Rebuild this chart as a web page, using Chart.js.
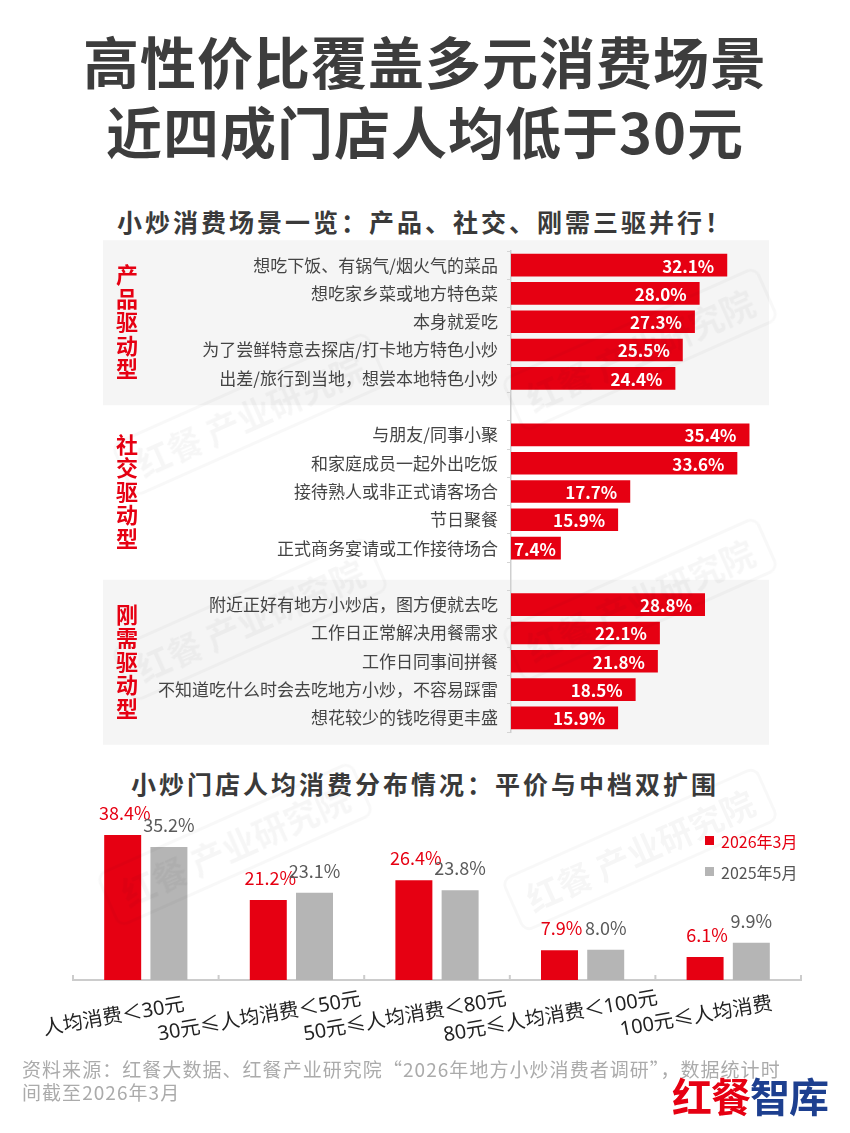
<!DOCTYPE html>
<html><head><meta charset="utf-8">
<script src="https://cdn.jsdelivr.net/npm/chart.js@4.4.1/dist/chart.umd.min.js"></script>
<style>
html,body{margin:0;padding:0;background:#fff;}
body{width:850px;height:1133px;position:relative;overflow:hidden;font-family:"Noto Sans CJK SC","Noto Sans",sans-serif;}
.abs{position:absolute;}
.title{left:0;width:850px;text-align:center;font-weight:700;font-size:56px;color:#3d3d3d;line-height:70px;letter-spacing:1px;}
.sub{left:0;width:850px;text-align:center;font-weight:700;font-size:25px;color:#3a3a3a;line-height:32px;letter-spacing:3px;}
.wm{font-weight:700;font-size:34px;color:rgba(0,0,0,0.035);border:3px solid rgba(0,0,0,0.028);border-radius:10px;padding:2px 14px;transform:rotate(-24deg);white-space:nowrap;transform-origin:center;}
.lg{font-size:16px;line-height:20px;}
.sq{width:9px;height:9px;}
.foot{left:22px;top:1057px;font-size:19px;line-height:23px;color:#ababab;letter-spacing:1.05px;}
.logo{right:22px;top:1071px;font-weight:700;font-size:40px;line-height:48px;letter-spacing:-1px;}
</style></head>
<body>
<div class="abs title" style="top:25px;">高性价比覆盖多元消费场景</div>
<div class="abs title" style="top:95px;">近四成门店人均低于30元</div>
<div class="abs sub" style="top:205px;">小炒消费场景一览：产品、社交、刚需三驱并行！</div>

<div class="abs" style="left:0;top:240px;width:850px;height:510px;"><canvas id="c1" width="850" height="510"></canvas></div>

<div class="abs sub" style="top:767px;">小炒门店人均消费分布情况：平价与中档双扩围</div>
<div class="abs" style="left:0;top:790px;width:850px;height:270px;"><canvas id="c2" width="850" height="270"></canvas></div>

<div class="abs sq" style="left:705px;top:836px;background:#e60012;"></div>
<div class="abs lg" id="lg1" style="left:721px;top:831px;color:#e60012;"></div>
<div class="abs sq" style="left:705px;top:867px;background:#b5b5b5;"></div>
<div class="abs lg" id="lg2" style="left:721px;top:862px;color:#555;"></div>

<div class="abs wm" style="left:110px;top:385px;">红餐 产业研究院</div>
<div class="abs wm" style="left:500px;top:320px;">红餐 产业研究院</div>
<div class="abs wm" style="left:110px;top:590px;">红餐 产业研究院</div>
<div class="abs wm" style="left:500px;top:570px;">红餐 产业研究院</div>
<div class="abs wm" style="left:95px;top:815px;">红餐 产业研究院</div>
<div class="abs wm" style="left:500px;top:820px;">红餐 产业研究院</div>

<div class="abs foot">资料来源：红餐大数据、红餐产业研究院“2026年地方小炒消费者调研”，数据统计时<br>间截至2026年3月</div>
<div class="abs logo"><span style="color:#e60012;">红餐</span><span style="color:#1d3f8f;">智库</span></div>

<script>
// ---------- Data: consumption scenarios ----------
const scenarioLabels = [
  '想吃下饭、有锅气/烟火气的菜品',
  '想吃家乡菜或地方特色菜',
  '本身就爱吃',
  '为了尝鲜特意去探店/打卡地方特色小炒',
  '出差/旅行到当地，想尝本地特色小炒',
  '',
  '与朋友/同事小聚',
  '和家庭成员一起外出吃饭',
  '接待熟人或非正式请客场合',
  '节日聚餐',
  '正式商务宴请或工作接待场合',
  '',
  '附近正好有地方小炒店，图方便就去吃',
  '工作日正常解决用餐需求',
  '工作日同事间拼餐',
  '不知道吃什么时会去吃地方小炒，不容易踩雷',
  '想花较少的钱吃得更丰盛'
];
const scenarioValues = [32.1, 28.0, 27.3, 25.5, 24.4, null, 35.4, 33.6, 17.7, 15.9, 7.4, null, 28.8, 22.1, 21.8, 18.5, 15.9];
const groupNames = ['产品驱动型', '社交驱动型', '刚需驱动型'];
const groupFirst = [0, 6, 12];
const groupLast = [4, 10, 16];
const groupShaded = [true, false, true];

// ---------- Data: price distribution ----------
const priceLabels = ['人均消费＜30元', '30元≤人均消费＜50元', '50元≤人均消费＜80元', '80元≤人均消费＜100元', '100元≤人均消费'];
const seriesNames = ['2026年3月', '2025年5月'];
const series2026 = [38.4, 21.2, 26.4, 7.9, 6.1];
const series2025 = [35.2, 23.1, 23.8, 8.0, 9.9];

const FONT = '"Noto Sans CJK SC","Noto Sans",sans-serif';
const LFONT = '"Noto Sans","Noto Sans CJK SC",sans-serif';
const RED = '#e60012', GRAY = '#b5b5b5';

document.getElementById('lg1').textContent = seriesNames[0];
document.getElementById('lg2').textContent = seriesNames[1];

// ---------- Chart 1 ----------
const panelPlugin = {
  id: 'panels',
  beforeDraw(chart) {
    const ctx = chart.ctx, y = chart.scales.y;
    const step = y.getPixelForValue(1) - y.getPixelForValue(0);
    ctx.save();
    ctx.fillStyle = '#f5f5f5';
    for (let g = 0; g < groupNames.length; g++) {
      if (!groupShaded[g]) continue;
      const top = y.getPixelForValue(groupFirst[g]) - 0.88 * step;
      const bot = y.getPixelForValue(groupLast[g]) + 0.95 * step;
      ctx.fillRect(103, top, chart.chartArea.right - 103, bot - top);
    }
    ctx.restore();
  },
  afterDraw(chart) {
    const ctx = chart.ctx, y = chart.scales.y;
    ctx.save();
    ctx.fillStyle = RED;
    ctx.font = 'bold 22px ' + FONT;
    ctx.textAlign = 'center';
    ctx.textBaseline = 'middle';
    for (let g = 0; g < groupNames.length; g++) {
      const mid = y.getPixelForValue((groupFirst[g] + groupLast[g]) / 2);
      const chars = Array.from(groupNames[g]);
      const pitch = 23.5;
      chars.forEach((ch, i) => {
        ctx.fillText(ch, 127, mid + (i - (chars.length - 1) / 2) * pitch);
      });
    }
    ctx.restore();
  },
  afterDatasetsDraw(chart) {
    const ctx = chart.ctx;
    const meta = chart.getDatasetMeta(0);
    ctx.save();
    ctx.fillStyle = '#ffffff';
    ctx.font = 'bold 17px ' + FONT;
    ctx.textAlign = 'right';
    ctx.textBaseline = 'middle';
    meta.data.forEach((el, i) => {
      const v = scenarioValues[i];
      if (v === null) return;
      const txt = v.toFixed(1) + '%';
      const w = ctx.measureText(txt).width;
      const xr = Math.max(el.x - 13, el.base + 3 + w);
      ctx.fillText(txt, xr, el.y + 1);
    });
    ctx.restore();
  }
};

new Chart(document.getElementById('c1'), {
  type: 'bar',
  data: {
    labels: scenarioLabels,
    datasets: [{
      data: scenarioValues,
      backgroundColor: RED,
      barPercentage: 0.8,
      categoryPercentage: 1.0
    }]
  },
  options: {
    indexAxis: 'y',
    responsive: false,
    animation: false,
    layout: { padding: { left: 0, right: 81, top: 11, bottom: 18 } },
    plugins: { legend: { display: false }, tooltip: { enabled: false } },
    scales: {
      x: { display: false, min: 0, max: 38.3 },
      y: {
        grid: { display: true, drawOnChartArea: false, drawTicks: true, tickLength: 4, color: '#d4d4d4', offset: true },
        border: { color: '#cfcfcf', width: 1.5 },
        ticks: { color: '#444', font: { size: 17, family: FONT }, padding: 9, autoSkip: false },
        afterFit(s) { s.width = 511; s.paddingTop = 0; s.paddingBottom = 0; }
      }
    }
  },
  plugins: [panelPlugin]
});

// ---------- Chart 2 ----------
const colPlugin = {
  id: 'cols',
  afterDatasetsDraw(chart) {
    const ctx = chart.ctx;
    ctx.save();
    ctx.font = '18px ' + FONT;
    ctx.textAlign = 'center';
    ctx.textBaseline = 'alphabetic';
    [series2026, series2025].forEach((vals, d) => {
      ctx.fillStyle = d === 0 ? RED : '#5a5a5a';
      chart.getDatasetMeta(d).data.forEach((el, i) => {
        ctx.fillText(vals[i].toFixed(1) + '%', el.x + (d === 0 ? 2 : 0), el.y - 15);
      });
    });
    ctx.restore();
  },
  afterDraw(chart) {
    const ctx = chart.ctx, x = chart.scales.x;
    const base = chart.chartArea.bottom;
    ctx.save();
    ctx.strokeStyle = '#cccccc';
    ctx.lineWidth = 2;
    for (let i = 0; i <= priceLabels.length; i++) {
      const px = x.getPixelForValue(i - 0.5);
      ctx.beginPath();
      ctx.moveTo(px, base + 1);
      ctx.lineTo(px, base - 5);
      ctx.stroke();
    }
    ctx.fillStyle = '#222';
    ctx.font = '20px ' + LFONT;
    ctx.textAlign = 'center';
    ctx.textBaseline = 'middle';
    priceLabels.forEach((lab, i) => {
      const px = x.getPixelForValue(i) - 32;
      ctx.save();
      ctx.translate(px, base + 37);
      ctx.rotate(-10 * Math.PI / 180);
      ctx.fillText(lab, 0, 0);
      ctx.restore();
    });
    ctx.restore();
  }
};

new Chart(document.getElementById('c2'), {
  type: 'bar',
  data: {
    labels: priceLabels,
    datasets: [
      { label: seriesNames[0], data: series2026, backgroundColor: RED, barPercentage: 0.8, categoryPercentage: 0.635 },
      { label: seriesNames[1], data: series2025, backgroundColor: GRAY, barPercentage: 0.8, categoryPercentage: 0.635 }
    ]
  },
  options: {
    responsive: false,
    animation: false,
    layout: { padding: { left: 73, right: 49, top: 39, bottom: 0 } },
    plugins: { legend: { display: false }, tooltip: { enabled: false } },
    scales: {
      x: {
        grid: { display: false },
        border: { color: '#cccccc', width: 2 },
        ticks: { display: false },
        afterFit(s) { s.height = 80; }
      },
      y: { display: false, min: 0, max: 40 }
    }
  },
  plugins: [colPlugin]
});
</script>
</body></html>
